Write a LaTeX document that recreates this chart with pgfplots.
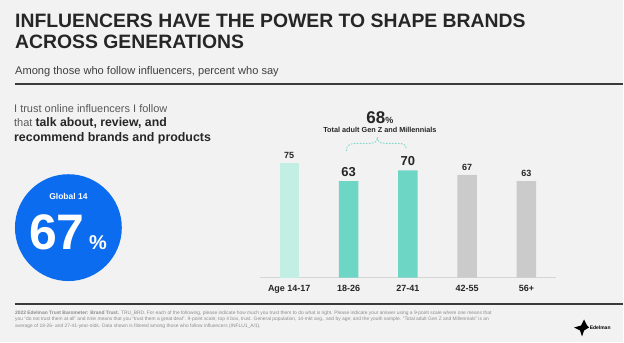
\documentclass[border=0pt]{standalone}
\usepackage{pgfplots}
\pgfplotsset{compat=1.18}
\usepackage{fontspec}
\setmainfont{Liberation Sans}
\definecolor{bg}{HTML}{F2F2F2}
\definecolor{dark}{HTML}{262626}
\definecolor{subc}{HTML}{404040}
\definecolor{midgray}{HTML}{595959}
\definecolor{rule}{HTML}{3A3A3A}
\definecolor{mint}{HTML}{C3EEE4}
\definecolor{teal}{HTML}{6DD6C4}
\definecolor{lgray}{HTML}{CBCBCB}
\definecolor{axisgray}{HTML}{D6D6D6}
\definecolor{blue}{HTML}{0B6CF0}
\definecolor{foot}{HTML}{8C8C8C}
\definecolor{brace}{HTML}{7FD9C9}
\begin{document}
\begin{tikzpicture}[x=1pt,y=1pt]
\fill[bg] (0,0) rectangle (624,-343);
% title
\node[anchor=base west, inner sep=0, text=dark, font=\fontsize{19.4}{23}\selectfont\bfseries] at (15,-28) {INFLUENCERS HAVE THE POWER TO SHAPE BRANDS};
\node[anchor=base west, inner sep=0, text=dark, font=\fontsize{19.4}{23}\selectfont\bfseries] at (15,-49) {ACROSS GENERATIONS};
\node[anchor=base west, inner sep=0, text=subc, font=\fontsize{11.1}{13}\selectfont] at (15,-75) {Among those who follow influencers, percent who say};
\draw[line width=2pt, rule] (15,-84.5) -- (624,-84.5);
% left statement
\node[anchor=base west, inner sep=0, text=midgray, font=\fontsize{11}{14}\selectfont] at (14,-113) {I trust online influencers I follow};
\node[anchor=base west, inner sep=0, text=midgray, font=\fontsize{11}{14}\selectfont] at (14,-127) {that \fontsize{12.3}{14}\selectfont\textbf{\color{dark}talk about, review, and}};
\node[anchor=base west, inner sep=0, text=dark, font=\fontsize{12.4}{14}\selectfont\bfseries] at (14,-142) {recommend brands and products};
% circle
\fill[blue] (68.5,-228) circle (53.5);
\node[anchor=base, inner sep=0, text=white, font=\fontsize{8.5}{10}\selectfont\bfseries] at (68.5,-200) {Global 14};
\node[anchor=base east, inner sep=0, text=white, font=\fontsize{50}{50}\selectfont\bfseries] at (85,-250) {67};
\node[anchor=base west, inner sep=0, text=white, font=\fontsize{20}{20}\selectfont\bfseries] at (89,-250) {\%};
% chart
\begin{axis}[
  at={(260pt,-278pt)}, anchor=south west,
  scale only axis, width=297pt, height=115pt,
  xmin=-0.5, xmax=4.5, ymin=0, ymax=75,
  axis x line=bottom, axis y line=none,
  x axis line style={draw=axisgray, line width=0.9pt, -},
  xtick={0,1,2,3,4},
  xticklabels={Age 14-17,18-26,27-41,42-55,56+},
  major tick length=0pt,
  xticklabel style={anchor=base, yshift=-14pt, font=\fontsize{9}{10}\selectfont\bfseries, text=dark},
  clip=false,
  ybar, bar width=19.5pt,
  nodes near coords,
  /pgf/number format/assume math mode=true,
  every node near coord/.append style={anchor=base, inner sep=0pt, yshift=4.5pt, text=dark},
]
\addplot[fill=mint, draw=none, bar shift=0pt, every node near coord/.append style={font=\fontsize{9}{10}\selectfont\bfseries}] coordinates {(0,75)};
\addplot[fill=teal, draw=none, bar shift=0pt, every node near coord/.append style={font=\fontsize{13}{14}\selectfont\bfseries}] coordinates {(1,63) (2,70)};
\addplot[fill=lgray, draw=none, bar shift=0pt, every node near coord/.append style={font=\fontsize{9}{10}\selectfont\bfseries}] coordinates {(3,67) (4,63)};
\end{axis}
% annotation
\node[anchor=base, inner sep=0, text=dark] at (380.5,-124) {\fontsize{17}{17}\selectfont\bfseries 68\fontsize{9}{9}\selectfont\%};
\node[anchor=base, inner sep=0, text=dark, font=\fontsize{7.3}{8}\selectfont\bfseries] at (380.5,-133) {Total adult Gen Z and Millennials};
\draw[brace, line width=1pt, dotted, line cap=round]
  (347,-151) .. controls (347,-145) and (351,-143.5) .. (358,-143.5) -- (371,-143.5)
  .. controls (376,-143.5) and (378,-141) .. (378,-137.5)
  .. controls (378,-141) and (380,-143.5) .. (385,-143.5) -- (398,-143.5)
  .. controls (404,-143.5) and (407,-145) .. (407,-150);
% footer
\draw[line width=2pt, rule] (15,-304) -- (624,-304);
\node[anchor=north west, inner sep=0, text=foot, align=left, font=\fontsize{4.9}{6.6}\selectfont] at (15,-311) {\textbf{2022 Edelman Trust Barometer: Brand Trust.} TRU\_BRD. For each of the following, please indicate how much you trust them to do what is right. Please indicate your answer using a 9-point scale where one means that\\
you ``do not trust them at all'' and nine means that you ``trust them a great deal''. 9-point scale; top 4 box, trust. General population, 14-mkt avg., and by age; and the youth sample. ``Total adult Gen Z and Millennials'' is an\\
average of 18-26- and 27-41-year-olds. Data shown is filtered among those who follow influencers (INFLU1\_A/1).};
% logo
\fill[black] (575,-328) -- (582,-326) -- (585,-320) -- (588,-326) -- (590,-328) -- (585,-331) -- (583,-337) -- (581,-331) -- cycle;
\node[anchor=base west, inner sep=0, text=black, font=\fontsize{5}{6}\selectfont\bfseries] at (590.5,-330) {Edelman};
\end{tikzpicture}
\end{document}
